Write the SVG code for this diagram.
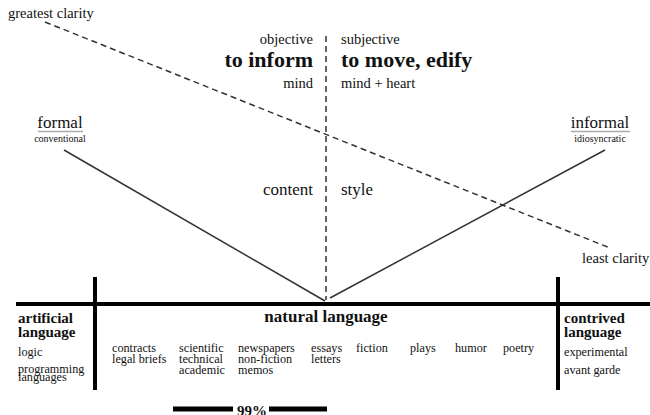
<svg xmlns="http://www.w3.org/2000/svg" width="650" height="415" viewBox="0 0 650 415" font-family="'Liberation Serif', 'DejaVu Serif', serif">
<style>
text{font-family:'Liberation Serif','DejaVu Serif',serif;fill:#111}
.m{font-size:14.5px}
.s{font-size:12.2px}
.xs{font-size:10px}
.h{font-size:17px}
.b{font-weight:bold;font-size:15px}
.big{font-weight:bold;font-size:22px}
.r{text-anchor:end}
.c{text-anchor:middle}
.thin{stroke:#333;stroke-width:1.5;fill:none}
.dash{stroke:#333;stroke-width:1.5;stroke-dasharray:6,4;fill:none}
.thick{stroke:#000;stroke-width:4;fill:none}
.ul{stroke:#aaa;stroke-width:1.5}
</style>
<g id="connectors">
<line class="dash" x1="45" y1="22" x2="610" y2="248"/>
<line class="dash" x1="326" y1="36" x2="326" y2="300"/>
<line class="thin" x1="64" y1="150" x2="325" y2="301"/>
<line class="thin" x1="330" y1="298" x2="605" y2="150"/>
<line class="thick" x1="16" y1="304" x2="650" y2="304"/>
<line class="thick" x1="95" y1="277" x2="95" y2="390"/>
<line class="thick" x1="558" y1="277" x2="558" y2="390"/>
<line stroke="#000" stroke-width="5" x1="173" y1="409" x2="233" y2="409"/>
<line stroke="#000" stroke-width="5" x1="269" y1="409" x2="327" y2="409"/>
</g>
<g id="greatest-clarity"><text class="m" x="8" y="18">greatest clarity</text></g>
<g id="least-clarity"><text class="m" x="582" y="263">least clarity</text></g>
<g id="inform">
<text class="m r" x="313" y="44">objective</text>
<text class="big r" x="313" y="67">to inform</text>
<text class="m r" x="313" y="88">mind</text>
</g>
<g id="move">
<text class="m" x="341" y="44">subjective</text>
<text class="big" x="341" y="67">to move, edify</text>
<text class="m" x="341" y="88">mind + heart</text>
</g>
<g id="content"><text class="h r" x="313" y="195">content</text></g>
<g id="style"><text class="h" x="341" y="195">style</text></g>
<g id="formal">
<text class="h c" x="60" y="128">formal</text>
<line class="ul" x1="38" y1="131.5" x2="83" y2="131.5"/>
<text class="xs c" x="60" y="142">conventional</text>
</g>
<g id="informal">
<text class="h c" x="600" y="128">informal</text>
<line class="ul" x1="571" y1="131.5" x2="630" y2="131.5"/>
<text class="xs c" x="600" y="142">idiosyncratic</text>
</g>
<g id="artificial">
<text class="b" x="18" y="323">artificial</text>
<text class="b" x="18" y="337">language</text>
<text class="s" x="18" y="356">logic</text>
<text class="s" x="18" y="373">programming</text>
<text class="s" x="18" y="381">languages</text>
</g>
<g id="natural">
<text class="b c" x="326" y="322" style="font-size:17px">natural language</text>
<text class="s" x="112" y="352">contracts</text>
<text class="s" x="112" y="363">legal briefs</text>
<text class="s" x="179" y="352">scientific</text>
<text class="s" x="179" y="363">technical</text>
<text class="s" x="179" y="374">academic</text>
<text class="s" x="238" y="352">newspapers</text>
<text class="s" x="238" y="363">non-fiction</text>
<text class="s" x="238" y="374">memos</text>
<text class="s" x="311" y="352">essays</text>
<text class="s" x="311" y="363">letters</text>
<text class="s" x="356" y="352">fiction</text>
<text class="s" x="410" y="352">plays</text>
<text class="s" x="455" y="352">humor</text>
<text class="s" x="503" y="352">poetry</text>
</g>
<g id="contrived">
<text class="b" x="564" y="323">contrived</text>
<text class="b" x="564" y="337">language</text>
<text class="s" x="564" y="356">experimental</text>
<text class="s" x="564" y="374">avant garde</text>
</g>
<g id="percent"><text class="b c" x="252" y="416" style="font-size:15px">99%</text></g>
</svg>
